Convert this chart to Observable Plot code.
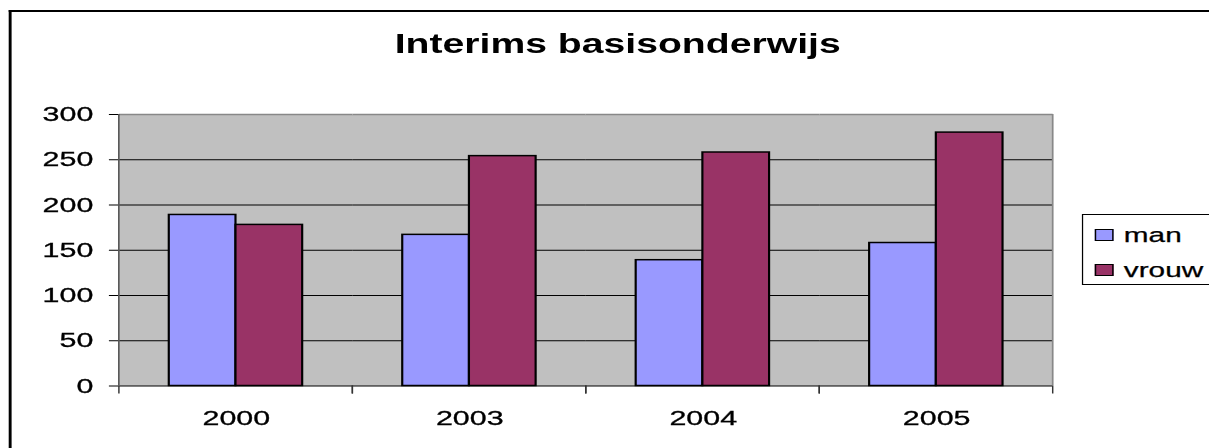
<!DOCTYPE html>
<html>
<head>
<meta charset="utf-8">
<script src="https://cdn.jsdelivr.net/npm/d3@7"></script>
<script src="https://cdn.jsdelivr.net/npm/@observablehq/plot@0.6"></script>
<style>
  html, body { margin: 0; padding: 0; background: #fff; overflow: hidden; }
  body { width: 1209px; height: 448px; }
  #wrap {
    position: relative; width: 834px; height: 448px; overflow: hidden;
    transform: scaleX(1.45); transform-origin: 0 0;
    font-family: Arial, "Liberation Sans", sans-serif;
  }
  #outer {
    position: absolute; left: 6.2px; top: 10px; width: 860px; height: 460px;
    border-top: 2px solid #000; border-left: 2px solid #000; border-right: none; border-bottom: none;
    box-sizing: border-box;
  }
  #title {
    position: absolute; left: 0; width: 852px; top: 29px; text-align: center;
    font-size: 27px; line-height: 30px; font-weight: bold; color: #000;
  }
  #chart { position: absolute; left: 0; top: 80px; }
  #chart svg text { stroke: #000; stroke-width: 0.3px; }
  #legend {
    position: absolute; left: 746px; top: 214px; width: 120px; height: 71px;
    border: 1px solid #000; box-sizing: border-box; padding-top: 2px; background: #fff;
  }
  .row { display: flex; align-items: center; height: 35px; font-size: 20.5px; color: #000; -webkit-text-stroke: 0.25px #000; }
  .sw { width: 12.9px; height: 12px; border: 1.5px solid #000; box-sizing: border-box; margin-left: 7.8px; margin-right: 7.4px; }
</style>
</head>
<body>
<div id="wrap">
  <div id="outer"></div>
  <div id="title"></div>
  <div id="chart"></div>
  <div id="legend"></div>
</div>
<script>
const chartTitle = "Interims basisonderwijs";
const years = ["2000", "2003", "2004", "2005"];
const series = ["man", "vrouw"];
const manValues = [189, 167, 139, 158];
const vrouwValues = [178, 254, 258, 280];
const yTicks = [0, 50, 100, 150, 200, 250, 300];
const seriesColors = ["#9999FF", "#993366"];

const rows = [];
years.forEach((yr, i) => {
  rows.push({year: yr, series: "man", value: manValues[i]});
  rows.push({year: yr, series: "vrouw", value: vrouwValues[i]});
});

document.getElementById("title").textContent = chartTitle;

const yMax = yTicks[yTicks.length - 1];
let facetCounter = 0;
function plotEdges(index, scales, values, dims) {
  const x = scales.x, y = scales.y;
  const [a, b] = x.range();
  const top = y(yMax), bottom = y(0);
  const k = facetCounter++ % years.length;
  const g = d3.create("svg:g");
  for (const xx of [a, b]) {
    g.append("line").attr("x1", xx).attr("x2", xx).attr("y1", bottom).attr("y2", bottom + 8)
      .attr("stroke", "#333").attr("stroke-width", 1);
  }
  if (k === 0) {
    g.append("line").attr("x1", a).attr("x2", a).attr("y1", top).attr("y2", bottom)
      .attr("stroke", "#555").attr("stroke-width", 1.2);
  }
  if (k === years.length - 1) {
    g.append("line").attr("x1", b).attr("x2", b).attr("y1", top).attr("y2", bottom)
      .attr("stroke", "#888").attr("stroke-width", 1.2);
  }
  return g.node();
}

const plot = Plot.plot({
  width: 834,
  height: 368,
  marginLeft: 81.6,
  marginRight: 107.1,
  marginTop: 34,
  marginBottom: 62.5,
  style: {fontFamily: "Arial, 'Liberation Sans', sans-serif", fontSize: "21px", color: "#000", background: "transparent"},
  fx: {domain: years, padding: 0, label: null, tickSize: 0, tickPadding: 24.5},
  x: {domain: series, paddingInner: 0, paddingOuter: 0.75, axis: null},
  y: {domain: [0, yMax], ticks: yTicks, tickSize: 6.9, tickPadding: 11.2, label: null},
  color: {domain: series, range: seriesColors},
  marks: [
    Plot.frame({fill: "#C0C0C0", stroke: null, shapeRendering: "crispEdges"}),
    Plot.gridY(yTicks.slice(1, -1), {stroke: "#000", strokeOpacity: 1, strokeWidth: 1}),
    Plot.ruleY([yMax], {stroke: "#888", strokeWidth: 1.3}),
    Plot.barY(rows, {fx: "year", x: "series", y: "value", fill: "series", stroke: "#000", strokeWidth: 1.5}),
    Plot.ruleY([0], {stroke: "#000", strokeWidth: 1.2}),
    plotEdges
  ]
});
document.getElementById("chart").appendChild(plot);

const legend = document.getElementById("legend");
series.forEach((s, i) => {
  const row = document.createElement("div");
  row.className = "row";
  const sw = document.createElement("div");
  sw.className = "sw";
  sw.style.background = seriesColors[i];
  const label = document.createElement("span");
  label.textContent = s;
  row.appendChild(sw);
  row.appendChild(label);
  legend.appendChild(row);
});
</script>
</body>
</html>
